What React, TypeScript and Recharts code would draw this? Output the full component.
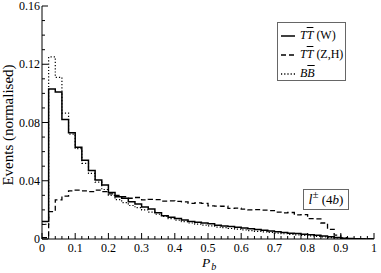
import { ComposedChart, Line, XAxis, YAxis, Legend } from "recharts";

document.body.style.margin = "0";

const FONT = "'Liberation Serif', 'DejaVu Serif', serif";

// bin edges, width 0.02 from 0 to 1
const binStarts = Array.from({ length: 51 }, (_, i) => Math.round(i * 2) / 100);

// T T-bar (W) - solid
const ttW = [
  0.012, 0.103, 0.101, 0.082, 0.073, 0.063, 0.054, 0.047, 0.0405, 0.037,
  0.032, 0.029, 0.028, 0.0256, 0.024, 0.022, 0.0206, 0.018, 0.016, 0.015,
  0.014, 0.013, 0.012, 0.0115, 0.011, 0.0105, 0.0095, 0.009, 0.0085, 0.008,
  0.0075, 0.007, 0.0065, 0.006, 0.0055, 0.005, 0.0045, 0.004, 0.0038, 0.0033,
  0.003, 0.0025, 0.002, 0.0015, 0.001, 0.0005, 0.0003, 0.0001, 0, 0
];

// T T-bar (Z,H) - dashed
const ttZH = [
  0.001, 0.0188, 0.0268, 0.0295, 0.033, 0.0335, 0.033, 0.0325, 0.0335, 0.0325,
  0.031, 0.03, 0.029, 0.028, 0.0285, 0.0268, 0.0272, 0.027, 0.026, 0.0262,
  0.0258, 0.0255, 0.0245, 0.0248, 0.0245, 0.0228, 0.0226, 0.0225, 0.021, 0.0212,
  0.0205, 0.02, 0.0202, 0.0198, 0.0195, 0.0185, 0.018, 0.0182, 0.0165, 0.0168,
  0.014, 0.0138, 0.011, 0.0066, 0.0027, 0.001, 0.0003, 0, 0, 0
];

// B B-bar - dotted
const bb = [
  0.01, 0.125, 0.111, 0.0865, 0.072, 0.062, 0.052, 0.045, 0.039, 0.034,
  0.03, 0.027, 0.025, 0.023, 0.0215, 0.02, 0.0185, 0.017, 0.0155, 0.014,
  0.013, 0.012, 0.011, 0.0102, 0.0095, 0.009, 0.0082, 0.0078, 0.0072, 0.0068,
  0.0062, 0.0058, 0.0053, 0.0049, 0.0045, 0.004, 0.0036, 0.0032, 0.0029, 0.0025,
  0.0021, 0.0018, 0.0014, 0.001, 0.0007, 0.0004, 0.0002, 0.0001, 0, 0
];

const xMajorLabels = ["0", "0.1", "0.2", "0.3", "0.4", "0.5", "0.6", "0.7", "0.8", "0.9", "1"];
const yMajorLabels = ["0", "0.04", "0.08", "0.12", "0.16"];

const xTicks = binStarts;
const yTicks = Array.from({ length: 17 }, (_, i) => i / 100);

// stepAfter needs the last value repeated at x = 1
const data = binStarts.map((p, i) => ({
  p,
  ttW: ttW[Math.min(i, ttW.length - 1)],
  ttZH: ttZH[Math.min(i, ttZH.length - 1)],
  bb: bb[Math.min(i, bb.length - 1)]
}));

const series = [
  { key: "ttW", dash: undefined as string | undefined, main: "TT", tail: " (W)" },
  { key: "ttZH", dash: "5 3", main: "TT", tail: " (Z,H)" },
  { key: "bb", dash: "1.2 2", main: "BB", tail: "" }
];

const isMajor = (v: number, step: number) => Math.abs(v / step - Math.round(v / step)) < 1e-6;

function BottomTick(props: any) {
  const { x, y, payload } = props;
  const v = payload.value;
  const major = isMajor(v, 0.1);
  const label = xMajorLabels[Math.round(v * 10)];
  return (
    <g>
      <line x1={x} x2={x} y1={y} y2={y - (major ? 6 : 3)} stroke="#000" />
      {major && (
        <text x={x} y={y + 13} textAnchor="middle" fontSize={12} fontFamily={FONT} fill="#000">
          {label}
        </text>
      )}
    </g>
  );
}

function TopTick(props: any) {
  const { x, y, payload } = props;
  const major = isMajor(payload.value, 0.1);
  return <line x1={x} x2={x} y1={y} y2={y + (major ? 6 : 3)} stroke="#000" />;
}

function LeftTick(props: any) {
  const { x, y, payload } = props;
  const v = payload.value;
  const major = isMajor(v, 0.04);
  const label = yMajorLabels[Math.round(v / 0.04)];
  return (
    <g>
      <line x1={x} x2={x + (major ? 6 : 3)} y1={y} y2={y} stroke="#000" />
      {major && (
        <text x={x - 2} y={y + 4} textAnchor="end" fontSize={12} fontFamily={FONT} fill="#000">
          {label}
        </text>
      )}
    </g>
  );
}

function RightTick(props: any) {
  const { x, y, payload } = props;
  const major = isMajor(payload.value, 0.04);
  return <line x1={x} x2={x - (major ? 6 : 3)} y1={y} y2={y} stroke="#000" />;
}

function LegendBox() {
  return (
    <div
      style={{
        width: 69,
        height: 59,
        border: "1px solid #666",
        background: "#fff",
        fontFamily: FONT,
        fontSize: 12,
        color: "#000",
        paddingTop: 3,
        boxSizing: "border-box"
      }}
    >
      {series.map((s) => (
        <div key={s.key} style={{ display: "flex", alignItems: "center", height: 19, whiteSpace: "nowrap" }}>
          <svg width={16} height={8} style={{ marginLeft: 3, marginRight: 3 }}>
            <line x1={0} x2={14} y1={4} y2={4} stroke="#000" strokeWidth={1.5} strokeDasharray={s.dash} />
          </svg>
          <span>
            <i>{s.main[0]}</i>
            <i style={{ textDecoration: "overline" }}>{s.main[1]}</i>
            {s.tail}
          </span>
        </div>
      ))}
    </div>
  );
}

export default function App() {
  return (
    <div style={{ position: "relative", width: 381, height: 273, background: "#fff" }}>
      <ComposedChart width={381} height={273} data={data} margin={{ top: 6, right: 7, bottom: 0, left: 0 }}>
        <XAxis
          dataKey="p"
          type="number"
          domain={[0, 1]}
          ticks={xTicks}
          interval={0}
          tickSize={0}
          tickMargin={0}
          height={34}
          stroke="#000"
          tick={<BottomTick />}
          tickLine={false}
          allowDataOverflow
          label={{
            content: () => (
              <text x={202} y={267} fontFamily={FONT} fill="#000">
                <tspan fontSize={13.5} fontStyle="italic">P</tspan>
                <tspan fontSize={10} dy={3} dx={1} fontStyle="italic">b</tspan>
              </text>
            )
          }}
        />
        <XAxis
          xAxisId="top"
          orientation="top"
          dataKey="p"
          type="number"
          domain={[0, 1]}
          ticks={xTicks}
          interval={0}
          tickSize={0}
          tickMargin={0}
          height={0}
          stroke="#000"
          tick={<TopTick />}
          tickLine={false}
          allowDataOverflow
        />
        <YAxis
          type="number"
          domain={[0, 0.16]}
          ticks={yTicks}
          interval={0}
          tickSize={0}
          tickMargin={0}
          width={42}
          stroke="#000"
          tick={<LeftTick />}
          tickLine={false}
          allowDataOverflow
          label={{
            content: () => (
              <text
                x={13}
                y={125}
                transform="rotate(-90 13 125)"
                textAnchor="middle"
                fontSize={15}
                fontFamily={FONT}
                fill="#000"
              >
                Events (normalised)
              </text>
            )
          }}
        />
        <YAxis
          yAxisId="right"
          orientation="right"
          type="number"
          domain={[0, 0.16]}
          ticks={yTicks}
          interval={0}
          tickSize={0}
          tickMargin={0}
          width={0}
          stroke="#000"
          tick={<RightTick />}
          tickLine={false}
          allowDataOverflow
        />
        <Line type="stepAfter" dataKey="bb" stroke="#000" strokeWidth={1.2} strokeDasharray="1.2 2" dot={false} isAnimationActive={false} />
        <Line type="stepAfter" dataKey="ttZH" stroke="#000" strokeWidth={1.3} strokeDasharray="5 3" dot={false} isAnimationActive={false} />
        <Line type="stepAfter" dataKey="ttW" stroke="#000" strokeWidth={1.5} dot={false} isAnimationActive={false} />
        <Legend
          layout="vertical"
          align="center"
          verticalAlign="middle"
          content={() => <LegendBox />}
          wrapperStyle={{ position: "absolute", left: 277, top: 22, width: 69, height: 59 }}
        />
      </ComposedChart>
      <div
        style={{
          position: "absolute",
          left: 303,
          top: 189,
          width: 46,
          height: 21,
          border: "1px solid #666",
          boxSizing: "border-box",
          fontFamily: FONT,
          fontSize: 14,
          lineHeight: "20px",
          textAlign: "center",
          color: "#000",
          background: "#fff",
          whiteSpace: "nowrap"
        }}
      >
        <i>l</i>
        <sup style={{ fontSize: 11, lineHeight: 0 }}>±</sup>
        <span style={{ fontSize: 13 }}> (4<i>b</i>)</span>
      </div>
    </div>
  );
}
